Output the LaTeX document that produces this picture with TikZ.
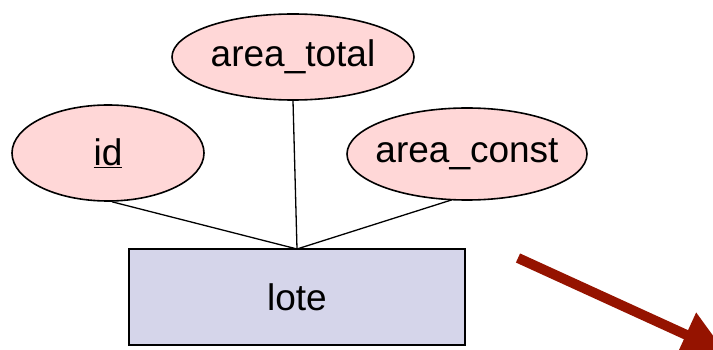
\documentclass[tikz,border=0pt]{standalone}
\usepackage{fontspec}
\setmainfont{Liberation Sans}
\usetikzlibrary{shapes.geometric,arrows.meta}
\definecolor{attrfill}{HTML}{FFD7D7}
\definecolor{entfill}{HTML}{D5D5EA}
\definecolor{arrred}{HTML}{951300}
\begin{document}
\begin{tikzpicture}[x=1pt,y=-1pt,
  attr/.style={ellipse,draw=black,line width=1.6pt,fill=attrfill,inner xsep=-25pt,inner ysep=0pt,font=\fontsize{37}{42}\selectfont},
  ent/.style={rectangle,draw=black,line width=1.8pt,fill=entfill,inner sep=0pt,font=\fontsize{37}{42}\selectfont},
  conn/.style={line width=1.3pt,black}]
\useasboundingbox (0,0) rectangle (713,350);
\clip (0,0) rectangle (713,350);
\node[attr,minimum width=192pt,minimum height=96pt] (id) at (108,153) {\underline{id}};
\node[attr,minimum width=242pt,minimum height=86pt] (total) at (293,57) {area\_total};
\node[attr,minimum width=240pt,minimum height=92pt] (const) at (467,154) {area\_const};
\node[ent,minimum width=336pt,minimum height=96pt] (lote) at (297,297) {lote};
\coordinate (j) at (297,249);
\draw[conn] (id.south) ++(4,0) -- (j);
\draw[conn] (total.south) -- (j);
\draw[conn] (const.south) ++(-15,-1) -- (j);
\coordinate (a0) at (518,258);
\coordinate (a1) at (726,353);
\draw[arrred,line width=10pt,-{Triangle[length=44pt,width=46pt]}] (a0) -- (a1);
\end{tikzpicture}
\end{document}
